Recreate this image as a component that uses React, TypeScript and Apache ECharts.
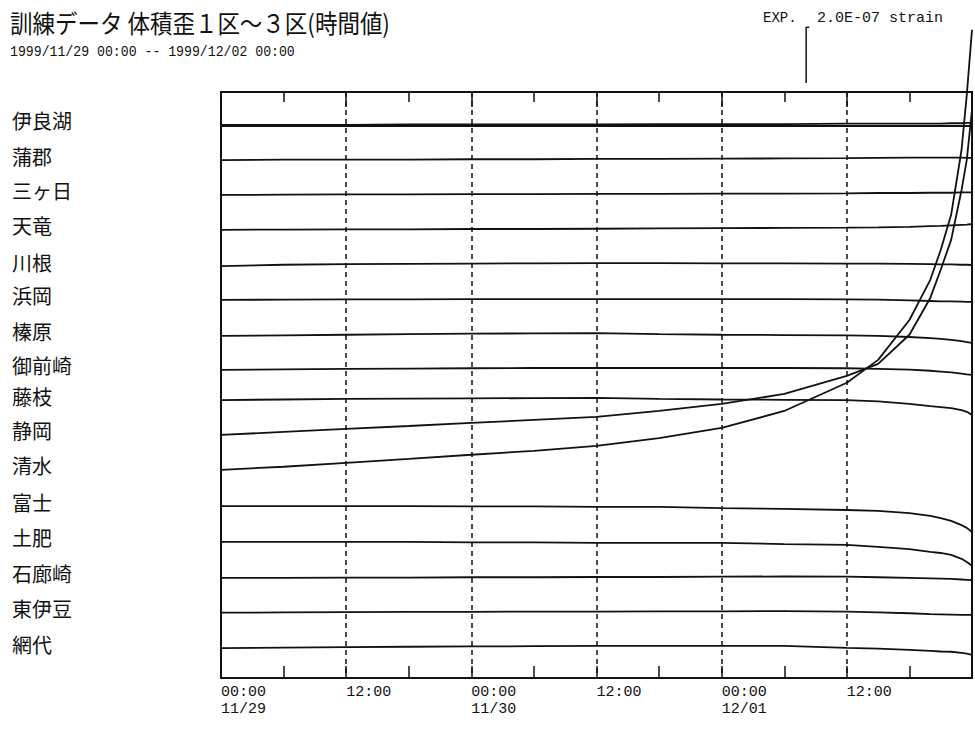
import { useEffect, useRef } from "react";
import * as echarts from "echarts";

// Hourly volumetric-strain traces, 1999/11/29 00:00 – 1999/12/02 00:00.
const TITLE = "訓練データ 体積歪１区～３区(時間値)";
const PERIOD = "1999/11/29 00:00 -- 1999/12/02 00:00";
const SCALE_PREFIX = "EXP.";
const SCALE_TEXT = "2.0E-07 strain";

const STATIONS = [
  "伊良湖", "蒲郡", "三ヶ日", "天竜", "川根", "浜岡", "榛原", "御前崎",
  "藤枝", "静岡", "清水", "富士", "土肥", "石廊崎", "東伊豆", "網代",
];

// sample times, hours since 11/29 00:00
const HOURS = [0, 6, 12, 18, 24, 30, 36, 42, 48, 54, 60, 63, 66, 68, 69, 70, 71, 71.5, 72];

// deviations from each trace's baseline, in units of 1e-8 strain
const IRAGO = [0.2, 0.2, 0.2, 0.4, 0.4, 0.4, 0.4, 0.5, 0.5, 0.5, 0.7, 0.7, 0.7, 0.7, 0.7, 0.8, 0.8, 0.9, 0.9];
const GAMAGORI = [0.1, 0.3, 0.3, 0.3, 0.4, 0.4, 0.5, 0.5, 0.6, 0.7, 0.8, 0.9, 1.0, 1.0, 1.0, 1.0, 1.0, 0.9, 0.9];
const MIKKABI = [0.1, 0.2, 0.3, 0.3, 0.4, 0.4, 0.5, 0.5, 0.6, 0.6, 0.7, 0.8, 0.8, 0.9, 0.9, 0.9, 1.0, 1.0, 1.0];
const TENRYU = [0.1, 0.2, 0.3, 0.3, 0.4, 0.4, 0.5, 0.6, 0.7, 0.8, 0.9, 1.0, 1.2, 1.4, 1.5, 1.7, 1.9, 2.0, 2.2];
const KAWANE = [-0.4, 0.1, 0.3, 0.4, 0.5, 0.6, 0.7, 0.7, 0.6, 0.6, 0.5, 0.5, 0.4, 0.3, 0.2, 0.2, 0.1, 0.1, 0.0];
const HAMAOKA = [0.0, 0.1, 0.2, 0.2, 0.3, 0.3, 0.3, 0.3, 0.3, 0.3, 0.2, 0.1, -0.2, -0.4, -0.5, -0.5, -0.6, -0.7, -0.7];
const HAIBARA = [-0.4, -0.2, 0.0, 0.2, 0.4, 0.5, 0.6, 0.2, 0.0, -0.1, -0.2, -0.4, -0.8, -1.2, -1.5, -1.8, -2.3, -2.6, -2.9];
const OMAEZAKI = [-0.1, 0.1, 0.3, 0.4, 0.5, 0.6, 0.6, 0.6, 0.6, 0.6, 0.5, 0.3, 0.0, -0.4, -0.7, -1.0, -1.4, -1.7, -1.9];
const FUJIEDA = [1.6, 1.8, 2.0, 2.1, 2.2, 2.3, 2.4, 2.0, 1.8, 1.7, 1.6, 1.1, 0.2, -0.6, -0.9, -1.3, -2.0, -2.6, -3.7];
const SHIZUOKA = [1.6, 2.7, 3.8, 4.8, 5.9, 7.0, 8.1, 10.2, 12.7, 16.3, 22.8, 27.1, 37.5, 50.7, 60.8, 71.5, 89.4, 100.2, 118.1];
const SHIMIZU = [1.6, 2.7, 4.1, 5.5, 7.0, 8.4, 10.2, 13.0, 16.6, 22.7, 32.8, 41.0, 55.3, 69.7, 80.4, 93.0, 116.3, 136.0, 159.3];
const FUJI = [1.1, 1.1, 1.1, 1.1, 1.0, 1.0, 0.8, 0.8, 0.4, 0.1, -0.3, -0.6, -1.4, -2.4, -3.2, -4.2, -5.7, -6.7, -8.2];
const TOI = [0.8, 0.8, 0.8, 0.8, 0.6, 0.6, 0.4, 0.4, 0.4, 0.0, -0.3, -1.0, -1.8, -2.8, -3.2, -3.9, -5.3, -6.4, -7.8];
const IROZAKI = [0.4, 0.4, 0.5, 0.5, 0.6, 0.6, 0.7, 0.7, 0.8, 0.9, 0.8, 0.6, 0.4, 0.2, 0.1, 0.0, -0.2, -0.3, -0.4];
const HIGASHIIZU = [0.4, 0.5, 0.6, 0.7, 0.7, 0.8, 0.8, 0.9, 0.9, 1.0, 0.8, 0.5, 0.2, -0.1, -0.2, -0.3, -0.4, -0.4, -0.4];
const AJIRO = [0.2, 0.4, 0.6, 0.7, 0.8, 0.9, 1.0, 1.0, 1.0, 1.0, 0.3, 0.0, -0.4, -0.8, -1.0, -1.1, -1.5, -1.8, -2.2];

const TRACES = [
  IRAGO, GAMAGORI, MIKKABI, TENRYU, KAWANE, HAMAOKA, HAIBARA, OMAEZAKI,
  FUJIEDA, SHIZUOKA, SHIMIZU, FUJI, TOI, IROZAKI, HIGASHIIZU, AJIRO,
];

// vertical distance between trace baselines (1e-8 strain)
const TRACE_SPACING = 12.5;
const Y_MIN = -198;
const Y_MAX = 12;

// time axis
const X_MAX_HOURS = 72;
const MAJOR_HOURS = 12;
const MINOR_HOURS = 6;
const DAY_LABELS = ["11/29", "11/30", "12/01"];

// scale bar: 2.0E-07 strain = 20 × 1e-8
const SCALE_BAR_VALUE = 20;
const SCALE_BAR_HOUR = 56.1;
const SCALE_BAR_BASE = 15.2;

const INK = "#111111";
const MONO = '"Liberation Mono", "DejaVu Sans Mono", monospace';
const JP = '"Noto Sans CJK JP", "Noto Sans", sans-serif';

export default function App() {
  const ref = useRef<HTMLDivElement>(null);

  useEffect(() => {
    if (!ref.current) return;
    const chart = echarts.init(ref.current, undefined, { renderer: "svg" });

    const traceSeries = STATIONS.map((name, k) => ({
      name,
      type: "line",
      data: HOURS.map((h, i) => [h, -k * TRACE_SPACING + TRACES[k][i]]),
      symbol: "none",
      clip: false,
      silent: true,
      lineStyle: { color: INK, width: 1.8 },
      z: 3,
    }));

    const scaleSeries = {
      name: "scale",
      type: "line",
      data: [
        [SCALE_BAR_HOUR + 0.3, SCALE_BAR_BASE + SCALE_BAR_VALUE],
        [SCALE_BAR_HOUR, SCALE_BAR_BASE + SCALE_BAR_VALUE],
        [SCALE_BAR_HOUR, SCALE_BAR_BASE],
      ],
      symbol: "none",
      clip: false,
      silent: true,
      lineStyle: { color: INK, width: 1.5 },
    };

    const labelValues = STATIONS.map((_, k) => -k * TRACE_SPACING + TRACES[k][0]);

    const tickStyle = { color: INK, width: 1.5 };

    chart.setOption({
      animation: false,
      backgroundColor: "#ffffff",
      grid: {
        left: 221,
        right: 3,
        top: 92,
        bottom: 53,
        show: true,
        borderColor: INK,
        borderWidth: 2,
        backgroundColor: "transparent",
      },
      xAxis: [
        {
          type: "value",
          position: "bottom",
          min: 0,
          max: X_MAX_HOURS,
          interval: MAJOR_HOURS,
          axisLine: { show: true, lineStyle: { color: INK, width: 2 } },
          axisTick: { show: false },
          splitLine: { show: true, lineStyle: { color: INK, width: 1.5, type: [5, 4] } },
          axisLabel: {
            showMaxLabel: false,
            align: "left",
            margin: 6,
            color: INK,
            fontFamily: MONO,
            fontSize: 15,
            lineHeight: 17,
            formatter: (v: number) => {
              if (v >= X_MAX_HOURS) return "";
              const day = Math.floor(v / 24);
              return v % 24 === 0 ? `00:00\n${DAY_LABELS[day]}` : "12:00";
            },
          },
        },
        {
          type: "value",
          position: "top",
          min: 0,
          max: X_MAX_HOURS,
          interval: MAJOR_HOURS,
          axisLine: { show: true, lineStyle: { color: INK, width: 2 } },
          axisTick: { show: true, inside: true, length: 15, lineStyle: tickStyle },
          minorTick: { show: true, splitNumber: 2, length: 10, lineStyle: tickStyle },
          splitLine: { show: false },
          axisLabel: { show: false },
        },
        {
          // 6-hour tick marks rising from the bottom edge
          type: "value",
          position: "bottom",
          min: 0,
          max: X_MAX_HOURS,
          interval: MINOR_HOURS,
          axisLine: { show: false },
          axisTick: { show: true, inside: true, length: 12, lineStyle: tickStyle },
          splitLine: { show: false },
          axisLabel: { show: false },
        },
      ],
      yAxis: {
        type: "value",
        min: Y_MIN,
        max: Y_MAX,
        axisLine: { show: true, lineStyle: { color: INK, width: 2 } },
        axisTick: { show: false },
        splitLine: { show: false },
        axisLabel: {
          customValues: labelValues,
          align: "left",
          verticalAlign: "bottom",
          margin: 209,
          color: INK,
          fontFamily: JP,
          fontSize: 20,
          lineHeight: 8,
          formatter: (v: number) => STATIONS[Math.round(-v / TRACE_SPACING)] ?? "",
        },
      },
      graphic: [
        {
          type: "text",
          x: 10,
          y: 9,
          scaleX: 0.9,
          style: { text: TITLE, font: `25px ${JP}`, fill: INK, verticalAlign: "top" },
        },
        {
          type: "text",
          x: 10,
          y: 44,
          scaleX: 0.88,
          style: { text: PERIOD, font: `15px ${MONO}`, fill: INK, verticalAlign: "top" },
        },
        {
          type: "text",
          x: 763,
          y: 11,
          style: { text: SCALE_PREFIX, font: `14px ${MONO}`, fill: INK, verticalAlign: "top" },
        },
        {
          type: "text",
          x: 817,
          y: 11,
          style: { text: SCALE_TEXT, font: `15px ${MONO}`, fill: INK, verticalAlign: "top" },
        },
      ],
      series: [...traceSeries, scaleSeries],
    });

    return () => chart.dispose();
  }, []);

  return (
    <div
      ref={ref}
      style={{
        position: "fixed",
        left: 0,
        top: 0,
        width: 975,
        height: 731,
        background: "#ffffff",
      }}
    />
  );
}
